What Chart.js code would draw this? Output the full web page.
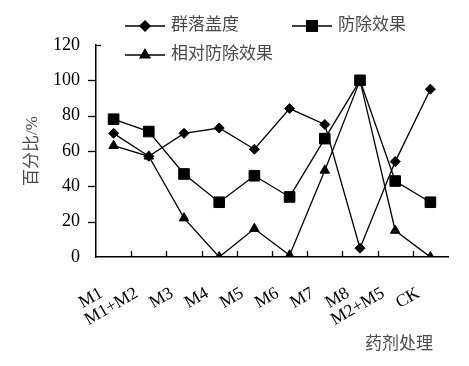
<!DOCTYPE html>
<html>
<head>
<meta charset="utf-8">
<script src="https://cdn.jsdelivr.net/npm/chart.js@4.4.0/dist/chart.umd.min.js"></script>
<style>
  html, body { margin: 0; padding: 0; background: #fff; }
  #wrap { width: 469px; height: 366px; position: relative; }
</style>
</head>
<body>
<div id="wrap"><canvas id="chart"></canvas></div>
<script>
// ---- data ----
const categories = ['M1', 'M1+M2', 'M3', 'M4', 'M5', 'M6', 'M7', 'M8', 'M2+M5', 'CK'];
const coverage   = [70, 57, 70, 73, 61, 84, 75, 5, 54, 95];      // 群落盖度
const control    = [78, 71, 47, 31, 46, 34, 67, 100, 43, 31];    // 防除效果
const relControl = [63, 57, 22, 0, 16, 1, 49, 100, 15, 0];       // 相对防除效果
const yTicks     = [0, 20, 40, 60, 80, 100, 120];

const SERIF = "'Liberation Serif', 'Noto Sans CJK SC', serif";
const TXT = '#4a4a4a';

// legend layout as in the picture: two items on row 1, one on row 2
const legendItems = [
  { label: '群落盖度', style: 'rectRot', r: 5, x: 125, y: 26 },
  { label: '防除效果', style: 'rect', r: 7.5, x: 292, y: 26 },
  { label: '相对防除效果', style: 'triangle', r: 5.5, x: 125, y: 55 },
];

const decor = {
  id: 'decor',
  afterDraw(chart) {
    const ctx = chart.ctx;
    const area = chart.chartArea;
    const ys = chart.scales.y;
    ctx.save();
    ctx.strokeStyle = '#000';
    ctx.lineWidth = 1.3;
    // y tick marks (outside, top one inside like the original)
    yTicks.forEach(v => {
      const py = Math.round(ys.getPixelForValue(v)) + 0.5;
      if (v === 0) return;
      ctx.beginPath();
      if (v === ys.max) { ctx.moveTo(area.left, py); ctx.lineTo(area.left + 5, py); }
      else { ctx.moveTo(area.left - 8, py); ctx.lineTo(area.left, py); }
      ctx.stroke();
    });
    // x tick marks at category boundaries, pointing up
    const step = (area.right - area.left) / categories.length;
    for (let i = 1; i < categories.length; i++) {
      const px = Math.round(area.left + i * step) + 0.5;
      ctx.beginPath();
      ctx.moveTo(px, area.bottom);
      ctx.lineTo(px, area.bottom - 6);
      ctx.stroke();
    }
    // legend
    ctx.font = "17px " + SERIF;
    ctx.textBaseline = 'middle';
    ctx.textAlign = 'left';
    legendItems.forEach(it => {
      ctx.strokeStyle = '#000';
      ctx.lineWidth = 1.5;
      ctx.beginPath();
      ctx.moveTo(it.x, it.y);
      ctx.lineTo(it.x + 40, it.y);
      ctx.stroke();
      ctx.fillStyle = '#000';
      Chart.helpers.drawPoint(ctx, { pointStyle: it.style, radius: it.r, borderWidth: 1 }, it.x + 20, it.y);
      ctx.fillStyle = TXT;
      ctx.fillText(it.label, it.x + 46, it.y);
    });
    // x axis title
    ctx.textAlign = 'right';
    ctx.fillStyle = TXT;
    ctx.fillText('药剂处理', 433, 345);
    ctx.restore();
  }
};

function makeSet(label, data, style, r) {
  return {
    label, data,
    borderColor: '#000', borderWidth: 1.3,
    backgroundColor: '#000',
    pointStyle: style, pointRadius: r, pointHoverRadius: r,
    pointBackgroundColor: '#000', pointBorderColor: '#000', pointBorderWidth: 1,
    tension: 0, fill: false
  };
}

new Chart(document.getElementById('chart'), {
  type: 'line',
  data: {
    labels: categories,
    datasets: [
      makeSet('群落盖度', coverage, 'rectRot', 5),
      makeSet('防除效果', control, 'rect', 7.5),
      makeSet('相对防除效果', relControl, 'triangle', 5.5),
    ]
  },
  options: {
    responsive: true,
    maintainAspectRatio: false,
    animation: false,
    layout: { padding: { top: 45, right: 21, left: 0, bottom: 0 } },
    plugins: { legend: { display: false }, tooltip: { enabled: false } },
    scales: {
      x: {
        type: 'category',
        offset: true,
        grid: { display: false, drawTicks: false, offset: true },
        border: { display: true, color: '#000', width: 1.5 },
        ticks: {
          autoSkip: false, minRotation: 30, maxRotation: 30,
          padding: 26, labelOffset: -12,
          color: '#000', font: { family: SERIF, size: 17.5 }
        },
        afterFit(scale) { scale.height = 109; }
      },
      y: {
        min: 0, max: 120,
        grid: { display: false, drawTicks: false },
        border: { display: true, color: '#000', width: 1.5 },
        ticks: {
          stepSize: 20, padding: 16,
          color: '#000', font: { family: SERIF, size: 18 }
        },
        title: {
          display: true, text: '百分比/%',
          color: TXT, font: { family: SERIF, size: 17 },
          padding: { top: 22, bottom: 0 }
        },
        afterFit(scale) { scale.width = 96; }
      }
    }
  },
  plugins: [decor]
});
</script>
</body>
</html>
